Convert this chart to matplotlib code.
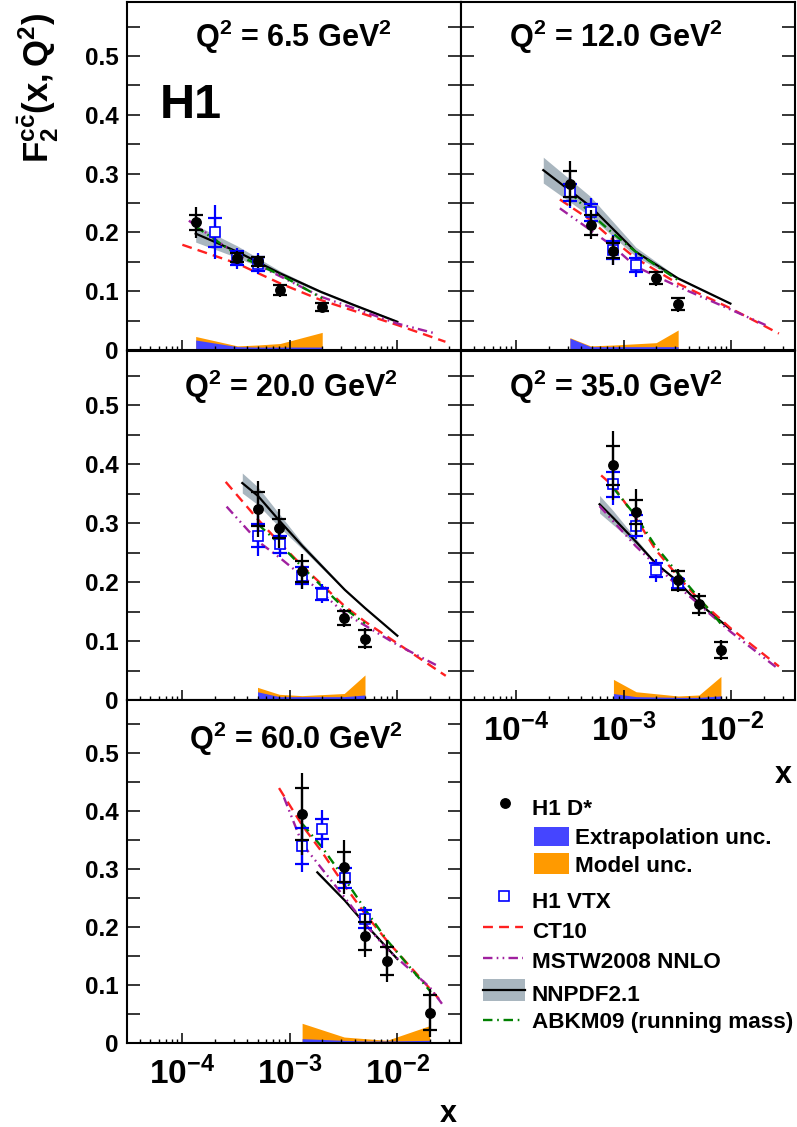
import numpy as np
import matplotlib
matplotlib.use("Agg")
import matplotlib.pyplot as plt
from matplotlib.patches import Rectangle
from matplotlib.ticker import FixedLocator, LogLocator, NullFormatter, FixedFormatter

plt.rcParams['font.family'] = ['Liberation Sans', 'DejaVu Sans']
plt.rcParams['font.weight'] = 'bold'
plt.rcParams['mathtext.fontset'] = 'custom'
plt.rcParams['mathtext.rm'] = 'Liberation Sans:bold'
plt.rcParams['mathtext.it'] = 'Liberation Sans:bold'
plt.rcParams['mathtext.bf'] = 'Liberation Sans:bold'
plt.rcParams['mathtext.default'] = 'rm'

# ---------------- data ----------------
q2_values = ["6.5", "12.0", "20.0", "35.0", "60.0"]

# H1 D*
dstar_x = [[1.33e-4, 3.25e-4, 5.0e-4, 8.1e-4, 2.0e-3],
           [3.15e-4, 4.9e-4, 8.0e-4, 2.0e-3, 3.2e-3],
           [5.0e-4, 8.0e-4, 1.3e-3, 3.2e-3, 5.0e-3],
           [8.0e-4, 1.3e-3, 3.2e-3, 5.0e-3, 8.0e-3],
           [1.3e-3, 3.2e-3, 5.0e-3, 8.0e-3, 2.0e-2]]
dstar_y = [[0.217, 0.157, 0.151, 0.102, 0.073],
           [0.283, 0.213, 0.169, 0.122, 0.078],
           [0.324, 0.291, 0.218, 0.139, 0.104],
           [0.398, 0.319, 0.203, 0.162, 0.085],
           [0.395, 0.304, 0.185, 0.141, 0.052]]
dstar_stat = [[0.0135, 0.008, 0.008, 0.0085, 0.0065],
              [0.022, 0.017, 0.0125, 0.010, 0.010],
              [0.028, 0.016, 0.017, 0.012, 0.014],
              [0.033, 0.020, 0.016, 0.015, 0.014],
              [0.045, 0.026, 0.024, 0.024, 0.030]]
dstar_tot = [[0.027, 0.011, 0.011, 0.011, 0.009],
             [0.038, 0.025, 0.025, 0.013, 0.013],
             [0.047, 0.033, 0.030, 0.016, 0.018],
             [0.058, 0.039, 0.020, 0.020, 0.017],
             [0.071, 0.046, 0.037, 0.036, 0.042]]
extrap_unc = [[0.017, 0.0057, 0.005, 0.005, 0.005],
              [0.020, 0.0057, 0.0057, 0.0057, 0.0057],
              [0.014, 0.0057, 0.0057, 0.0057, 0.0085],
              [0.011, 0.0057, 0.0045, 0.0045, 0.007],
              [0.0075, 0.0046, 0.0035, 0.0035, 0.0046]]
model_unc = [[0.023, 0.007, 0.0085, 0.011, 0.030],
             [0.021, 0.007, 0.0085, 0.0125, 0.034],
             [0.0215, 0.0096, 0.0074, 0.011, 0.0425],
             [0.035, 0.014, 0.0068, 0.0085, 0.040],
             [0.034, 0.0103, 0.0075, 0.0046, 0.030]]

# H1 VTX
vtx_x = [[2.03e-4, 3.25e-4, 5.0e-4],
         [3.15e-4, 4.9e-4, 8.0e-4, 1.29e-3],
         [5.06e-4, 8.1e-4, 1.31e-3, 2.0e-3],
         [8.0e-4, 1.29e-3, 1.97e-3, 3.18e-3],
         [1.31e-3, 2.0e-3, 3.24e-3, 5.0e-3]]
vtx_y = [[0.200, 0.156, 0.147],
         [0.268, 0.234, 0.170, 0.145],
         [0.279, 0.264, 0.211, 0.180],
         [0.366, 0.296, 0.220, 0.198],
         [0.340, 0.369, 0.285, 0.214]]
vtx_stat = [[0.025, 0.012, 0.012],
            [0.015, 0.015, 0.015, 0.012],
            [0.020, 0.015, 0.015, 0.010],
            [0.021, 0.018, 0.012, 0.008],
            [0.031, 0.0175, 0.017, 0.015]]
vtx_tot = [[0.046, 0.018, 0.018],
           [0.027, 0.025, 0.025, 0.020],
           [0.035, 0.022, 0.023, 0.016],
           [0.035, 0.023, 0.020, 0.011],
           [0.045, 0.033, 0.020, 0.021]]

# NNPDF2.1
nnpdf_x = [[1.33e-4, 3.25e-4, 8.2e-4, 1.94e-3, 3.95e-3, 1.0e-2],
           [1.78e-4, 4.9e-4, 1.29e-3, 3.18e-3, 9.8e-3],
           [3.61e-4, 5.06e-4, 8.1e-4, 1.31e-3, 3.24e-3, 5.0e-3, 1.0e-2],
           [5.94e-4, 7.96e-4, 1.29e-3, 1.97e-3, 3.18e-3, 4.99e-3, 9.8e-3],
           [1.80e-3, 3.24e-3, 5.0e-3, 1.0e-2]]
nnpdf_y = [[0.198, 0.167, 0.130, 0.099, 0.0765, 0.048],
           [0.306, 0.244, 0.167, 0.122, 0.079],
           [0.368, 0.346, 0.303, 0.261, 0.187, 0.156, 0.109],
           [0.332, 0.309, 0.269, 0.232, 0.201, 0.164, 0.120],
           [0.2945, 0.246, 0.2055, 0.145]]
nnpdf_err = [[0.0145, 0.010, 0.004, 0.002, 0.002, 0.002],
             [0.022, 0.017, 0.008, 0.002, 0.001],
             [0.017, 0.015, 0.011, 0.005, 0.002, 0.001, 0.001],
             [0.015, 0.012, 0.005, 0.002, 0.001, 0.001, 0.001],
             [0.003, 0.002, 0.002, 0.002]]

# CT10
ct10_x = [[1.0e-4, 3.25e-4, 8.2e-4, 1.94e-3, 1.0e-2, 2.8e-2],
          [2.54e-4, 4.9e-4, 7.96e-4, 1.29e-3, 3.18e-3, 9.8e-3, 2.77e-2],
          [2.53e-4, 5.06e-4, 8.1e-4, 1.31e-3, 3.24e-3, 5.0e-3, 1.0e-2, 2.82e-2],
          [6.15e-4, 7.96e-4, 1.29e-3, 1.97e-3, 3.18e-3, 4.99e-3, 9.8e-3, 2.77e-2],
          [7.93e-4, 1.31e-3, 2.0e-3, 3.24e-3, 5.0e-3, 7.96e-3, 2.0e-2, 2.44e-2]]
ct10_y = [[0.179, 0.147, 0.113, 0.085, 0.0425, 0.014],
          [0.256, 0.221, 0.187, 0.156, 0.113, 0.071, 0.028],
          [0.370, 0.306, 0.266, 0.227, 0.159, 0.133, 0.096, 0.041],
          [0.381, 0.363, 0.309, 0.255, 0.210, 0.170, 0.122, 0.057],
          [0.440, 0.375, 0.329, 0.2715, 0.223, 0.177, 0.094, 0.076]]

# MSTW2008 NNLO
mstw_x = [[1.15e-4, 3.25e-4, 8.2e-4, 1.94e-3, 3.95e-3, 1.0e-2, 2.28e-2],
          [2.54e-4, 4.9e-4, 7.96e-4, 1.29e-3, 3.18e-3, 9.8e-3, 2.08e-2],
          [2.58e-4, 5.06e-4, 8.1e-4, 1.31e-3, 2.0e-3, 3.24e-3, 1.0e-2, 2.28e-2],
          [5.94e-4, 1.29e-3, 3.18e-3, 9.8e-3, 2.68e-2],
          [8.8e-4, 1.31e-3, 2.0e-3, 3.24e-3, 5.0e-3, 7.96e-3, 2.0e-2, 2.6e-2]]
mstw_y = [[0.220, 0.1615, 0.125, 0.0907, 0.071, 0.045, 0.028],
          [0.241, 0.204, 0.176, 0.142, 0.108, 0.069, 0.0425],
          [0.328, 0.269, 0.241, 0.210, 0.181, 0.147, 0.0935, 0.0595],
          [0.329, 0.261, 0.193, 0.116, 0.054],
          [0.424, 0.343, 0.300, 0.251, 0.2055, 0.1625, 0.0964, 0.0677]]

# ABKM09 (running mass)
abkm_x = [[1.33e-4, 3.25e-4, 8.2e-4, 2.0e-3],
          [3.15e-4, 4.9e-4, 7.96e-4, 1.29e-3, 3.18e-3],
          [5.06e-4, 8.1e-4, 1.31e-3, 3.24e-3, 5.0e-3],
          [7.96e-4, 1.29e-3, 1.97e-3, 3.18e-3, 4.99e-3, 7.94e-3],
          [1.31e-3, 2.0e-3, 3.24e-3, 5.0e-3, 7.96e-3, 2.05e-2]]
abkm_y = [[0.210, 0.1615, 0.1276, 0.088],
          [0.269, 0.232, 0.198, 0.167, 0.119],
          [0.298, 0.264, 0.225, 0.155, 0.130],
          [0.360, 0.312, 0.261, 0.215, 0.173, 0.130],
          [0.378, 0.3375, 0.283, 0.231, 0.178, 0.088]]

ytick_vals = [0, 0.1, 0.2, 0.3, 0.4, 0.5]
ytick_labels = ["0", "0.1", "0.2", "0.3", "0.4", "0.5"]
xtick_vals = [1e-4, 1e-3, 1e-2]
xtick_labels = [r"$10^{-4}$", r"$10^{-3}$", r"$10^{-2}$"]

legend_labels = ["H1 D*", "Extrapolation unc.", "Model unc.", "H1 VTX", "CT10",
                 "MSTW2008 NNLO", "NNPDF2.1", "ABKM09 (running mass)"]

# ---------------- styles ----------------
W, H = 797, 1127
C_RED = '#ff2020'
C_PURPLE = '#a0209f'
C_GREEN = '#008000'
C_BLUE = '#0000ff'
C_EXT = '#4545ff'
C_MOD = '#ff9a00'
C_BAND = '#a9b6bf'
ct10_style = dict(color=C_RED, lw=1.7, dashes=(4.2, 2.6))
mstw_style = dict(color=C_PURPLE, lw=1.7, dashes=(4.0, 1.8, 0.7, 1.8, 0.7, 1.8))
abkm_style = dict(color=C_GREEN, lw=1.7, dashes=(4.0, 2.0, 0.7, 2.0))

fig = plt.figure(figsize=(W / 100, H / 100), dpi=100)


def px_axes(left, top, w, h):
    return fig.add_axes([left / W, 1 - (top + h) / H, w / W, h / H])


panel_boxes = [(127, 2, 334, 348), (461, 2, 334, 348),
               (127, 351, 334, 349), (461, 351, 334, 349),
               (127, 700, 334, 343)]
title_x = [0.497, 0.464, 0.49, 0.464, 0.505]
title_y = [0.870, 0.870, 0.868, 0.868, 0.856]

for i, box in enumerate(panel_boxes):
    ax = px_axes(*box)
    ax.set_xscale('log')
    ax.set_xlim(10 ** -4.515, 10 ** -1.408)
    ax.set_ylim(0, 0.592)
    for s in ax.spines.values():
        s.set_linewidth(1.5)

    # uncertainty bands at bottom
    ax.fill_between(dstar_x[i], 0, model_unc[i], color=C_MOD, lw=0, zorder=1)
    ax.fill_between(dstar_x[i], 0, extrap_unc[i], color=C_EXT, lw=0, zorder=1.1)

    # theory curves
    ny = np.array(nnpdf_y[i]); ne = np.array(nnpdf_err[i])
    ax.fill_between(nnpdf_x[i], ny - ne, ny + ne, color=C_BAND, lw=0, zorder=2)
    ax.plot(nnpdf_x[i], nnpdf_y[i], color='black', lw=1.6, zorder=3)
    ax.plot(ct10_x[i], ct10_y[i], zorder=3, **ct10_style)
    ax.plot(mstw_x[i], mstw_y[i], zorder=3, **mstw_style)
    ax.plot(abkm_x[i], abkm_y[i], zorder=3, **abkm_style)

    # H1 VTX
    ax.errorbar(vtx_x[i], vtx_y[i], yerr=vtx_tot[i], fmt='none', ecolor=C_BLUE,
                elinewidth=1.6, capsize=0, zorder=4)
    ax.errorbar(vtx_x[i], vtx_y[i], yerr=vtx_stat[i], fmt='none', ecolor=C_BLUE,
                elinewidth=1.6, capsize=4.7, capthick=1.6, zorder=4)
    ax.plot(vtx_x[i], vtx_y[i], ls='none', marker='s', ms=7.5, mfc='white',
            mec=C_BLUE, mew=1.2, zorder=5)

    # H1 D*
    ax.errorbar(dstar_x[i], dstar_y[i], yerr=dstar_tot[i], fmt='none', ecolor='black',
                elinewidth=1.6, capsize=0, zorder=6)
    ax.errorbar(dstar_x[i], dstar_y[i], yerr=dstar_stat[i], fmt='none', ecolor='black',
                elinewidth=1.6, capsize=4.7, capthick=1.6, zorder=6)
    ax.plot(dstar_x[i], dstar_y[i], ls='none', marker='o', ms=6.8, color='black', zorder=7)

    # ticks
    ax.yaxis.set_major_locator(FixedLocator(ytick_vals))
    ax.yaxis.set_minor_locator(FixedLocator([0.05, 0.15, 0.25, 0.35, 0.45, 0.55]))
    ax.tick_params(axis='y', which='both', direction='in', left=True, right=True,
                   length=9.4, width=1.1, labelsize=17.5, pad=6.3)
    ax.xaxis.set_major_locator(FixedLocator(xtick_vals))
    ax.xaxis.set_minor_locator(LogLocator(base=10, subs=np.arange(2, 10), numticks=20))
    ax.xaxis.set_minor_formatter(NullFormatter())
    ax.tick_params(axis='x', which='major', direction='in', bottom=True, top=False,
                   length=7, width=1.1, labelsize=24, pad=10)
    ax.tick_params(axis='x', which='minor', direction='in', bottom=True, top=False,
                   length=3.2, width=1.0)
    if i in (0, 2, 4):
        ax.yaxis.set_major_formatter(FixedFormatter(ytick_labels))
    else:
        ax.tick_params(axis='y', labelleft=False)
    if i in (3, 4):
        ax.xaxis.set_major_formatter(FixedFormatter(xtick_labels))
    else:
        ax.tick_params(axis='x', labelbottom=False)

    ax.text(title_x[i], title_y[i], "Q$^2$ = " + q2_values[i] + " GeV$^2$",
            transform=ax.transAxes, ha='center', va='baseline', fontsize=22,
            fontweight='bold')
    if i == 0:
        ax.text(0.099, 0.667, "H1", transform=ax.transAxes, ha='left',
                va='baseline', fontsize=35, fontweight='bold')

# y label and x labels
fig.text(38 / W, 1 - 88 / H, r"$F_2^{c\bar{c}}(x,Q^2)$", rotation=90,
         ha='center', va='center', fontsize=25)
fig.text(457 / W, 1 - 1122 / H, "x", ha='right', va='baseline', fontsize=22,
         fontweight='bold')
fig.text(792 / W, 1 - 783 / H, "x", ha='right', va='baseline', fontsize=22,
         fontweight='bold')

# legend drawn in pixel coordinates
lg = fig.add_axes([0, 0, 1, 1], zorder=10)
lg.set_xlim(0, W); lg.set_ylim(H, 0); lg.axis('off'); lg.patch.set_alpha(0)
fs = 16.2
lg.plot([505], [803], marker='o', ms=6.8, color='black')
lg.text(532, 815, legend_labels[0], fontsize=fs, va='baseline', fontweight='bold')
lg.add_patch(Rectangle((534, 827), 35, 19, color=C_EXT, lw=0))
lg.text(575, 844, legend_labels[1], fontsize=fs, va='baseline', fontweight='bold')
lg.add_patch(Rectangle((534, 853), 35, 21, color=C_MOD, lw=0))
lg.text(575, 872, legend_labels[2], fontsize=fs, va='baseline', fontweight='bold')
lg.plot([504], [896], marker='s', ms=7, mfc='white', mec=C_BLUE, mew=1.2)
lg.text(532, 908, legend_labels[3], fontsize=fs, va='baseline', fontweight='bold')
lg.plot([483, 523], [927, 927], **ct10_style)
lg.text(532, 938, legend_labels[4], fontsize=fs, va='baseline', fontweight='bold')
lg.plot([483, 523], [958, 958], **mstw_style)
lg.text(532, 968, legend_labels[5], fontsize=fs, va='baseline', fontweight='bold')
lg.add_patch(Rectangle((483, 979), 42, 22, color=C_BAND, lw=0))
lg.plot([483, 525], [990, 990], color='black', lw=1.6)
lg.text(532, 1001, legend_labels[6], fontsize=fs, va='baseline', fontweight='bold')
lg.plot([483, 523], [1020, 1020], **abkm_style)
lg.text(532, 1028, legend_labels[7], fontsize=fs, va='baseline', fontweight='bold')

fig.savefig("out.png", dpi=100)
